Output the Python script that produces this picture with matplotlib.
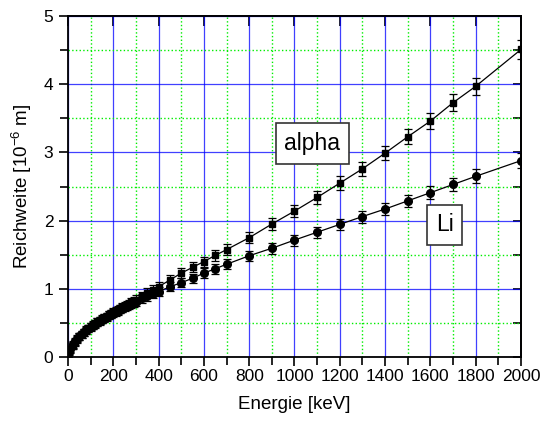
import matplotlib
matplotlib.use('Agg')
import matplotlib.pyplot as plt
from matplotlib.ticker import MultipleLocator, NullFormatter

plt.rcParams['font.family'] = ['Liberation Sans', 'DejaVu Sans']
plt.rcParams['mathtext.fontset'] = 'custom'
plt.rcParams['mathtext.rm'] = 'Liberation Sans'
plt.rcParams['mathtext.it'] = 'Liberation Sans:italic'

# energies in keV (same grid for both ions)
energy = [2, 5, 10, 20, 30, 40, 50, 60, 70, 80, 90, 100, 110, 120, 130, 140,
          150, 160, 170, 180, 190, 200, 210, 220, 230, 240, 250, 260, 270, 280,
          290, 300, 325, 350, 375, 400, 450, 500, 550, 600, 650, 700, 800, 900,
          1000, 1100, 1200, 1300, 1400, 1500, 1600, 1700, 1800, 2000]

# range in 1e-6 m
alpha_range = [0.04, 0.07, 0.10, 0.165, 0.215, 0.26, 0.30, 0.335, 0.365, 0.395,
               0.42, 0.445, 0.47, 0.49, 0.515, 0.535, 0.555, 0.575, 0.595,
               0.615, 0.635, 0.655, 0.675, 0.69, 0.71, 0.725, 0.745, 0.765,
               0.78, 0.80, 0.82, 0.84, 0.89, 0.94, 0.985, 1.03, 1.13, 1.23,
               1.315, 1.40, 1.49, 1.575, 1.75, 1.95, 2.14, 2.34, 2.55, 2.76,
               2.99, 3.23, 3.46, 3.73, 3.97, 4.51]
alpha_err = [0.046, 0.046, 0.047, 0.048, 0.050, 0.050, 0.051, 0.052, 0.053,
             0.053, 0.054, 0.054, 0.055, 0.055, 0.056, 0.056, 0.057, 0.057,
             0.057, 0.058, 0.058, 0.059, 0.059, 0.059, 0.060, 0.060, 0.061,
             0.061, 0.061, 0.062, 0.062, 0.063, 0.064, 0.065, 0.066, 0.067,
             0.069, 0.071, 0.073, 0.074, 0.076, 0.078, 0.082, 0.086, 0.090,
             0.094, 0.099, 0.103, 0.108, 0.113, 0.118, 0.123, 0.128, 0.140]

li_range = [0.05, 0.09, 0.12, 0.185, 0.23, 0.27, 0.305, 0.335, 0.365, 0.39,
            0.415, 0.44, 0.465, 0.485, 0.51, 0.53, 0.55, 0.57, 0.59, 0.61,
            0.625, 0.645, 0.665, 0.68, 0.70, 0.715, 0.73, 0.75, 0.765, 0.78,
            0.795, 0.81, 0.86, 0.89, 0.925, 0.96, 1.03, 1.09, 1.155, 1.23,
            1.295, 1.36, 1.485, 1.595, 1.715, 1.83, 1.945, 2.06, 2.17, 2.29,
            2.41, 2.53, 2.65, 2.88]
li_err = [0.046, 0.047, 0.048, 0.049, 0.050, 0.051, 0.051, 0.052, 0.053, 0.053,
          0.054, 0.054, 0.055, 0.055, 0.056, 0.056, 0.057, 0.057, 0.057, 0.058,
          0.058, 0.059, 0.059, 0.059, 0.060, 0.060, 0.060, 0.061, 0.061, 0.061,
          0.062, 0.062, 0.063, 0.064, 0.064, 0.065, 0.067, 0.068, 0.069, 0.071,
          0.072, 0.074, 0.076, 0.079, 0.081, 0.083, 0.086, 0.088, 0.091, 0.093,
          0.096, 0.098, 0.101, 0.105]

fig = plt.figure(figsize=(5.41, 4.23), dpi=100)
ax = fig.add_axes([0.1257, 0.156, 0.8373, 0.806])

ax.errorbar(energy, alpha_range, yerr=alpha_err, fmt='-s', color='black',
            markersize=5, linewidth=0.9, elinewidth=0.9, capsize=3,
            capthick=0.9, zorder=3)
ax.errorbar(energy, li_range, yerr=li_err, fmt='-o', color='black',
            markersize=5.5, linewidth=0.9, elinewidth=0.9, capsize=3,
            capthick=0.9, zorder=3)

ax.set_xlim(0, 2000)
ax.set_ylim(0, 5)
ax.xaxis.set_major_locator(MultipleLocator(200))
ax.xaxis.set_minor_locator(MultipleLocator(100))
ax.yaxis.set_major_locator(MultipleLocator(1))
ax.yaxis.set_minor_locator(MultipleLocator(0.5))

ax.grid(which='major', color='#0000ff', linestyle='-', linewidth=0.9, alpha=0.75)
ax.grid(which='minor', color='#00ee00', linestyle=':', linewidth=1.0)
ax.set_axisbelow(True)

# left / bottom: ticks outside
ax.tick_params(which='both', direction='out', width=1.2, labelsize=12.5)
ax.tick_params(which='major', length=6.5)
ax.tick_params(which='minor', length=6)
ax.tick_params(axis='x', pad=2)
ax.tick_params(axis='y', pad=4)
for s in ax.spines.values():
    s.set_linewidth(1.3)

# top / right: ticks inside, no labels
top = ax.secondary_xaxis('top')
top.xaxis.set_major_locator(MultipleLocator(200))
top.xaxis.set_minor_locator(MultipleLocator(100))
top.xaxis.set_major_formatter(NullFormatter())
top.tick_params(which='both', direction='in', width=1.2)
top.tick_params(which='major', length=7)
top.tick_params(which='minor', length=0)
right = ax.secondary_yaxis('right')
right.yaxis.set_major_locator(MultipleLocator(1))
right.yaxis.set_minor_locator(MultipleLocator(0.5))
right.yaxis.set_major_formatter(NullFormatter())
right.tick_params(which='both', direction='in', width=1.2, length=6)
for sa in (top, right):
    for s in sa.spines.values():
        s.set_linewidth(1.3)

ax.set_xlabel('Energie [keV]', fontsize=13.5, labelpad=9)
ax.set_ylabel('Reichweite [10$^{-6}$ m]', fontsize=13.5, labelpad=7)

box = dict(boxstyle='square,pad=0.38', facecolor='white', edgecolor='#333333',
           linewidth=1.2)
ax.text(1079, 3.13, 'alpha', fontsize=16.5, ha='center', va='center', bbox=box,
        zorder=5)
ax.text(1664, 1.94, 'Li', fontsize=16.5, ha='center', va='center', bbox=box,
        zorder=5)

fig.savefig('out.png', dpi=100)
